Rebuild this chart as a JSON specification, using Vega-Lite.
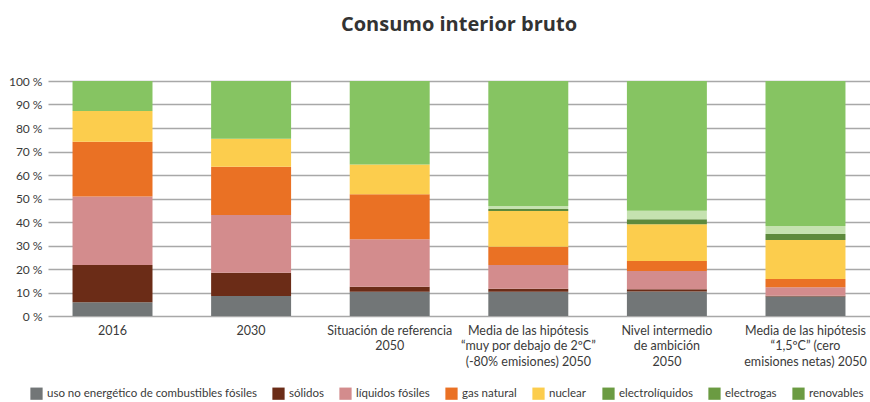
{
  "$schema": "https://vega.github.io/schema/vega-lite/v6.json",
  "autosize": {"type": "none"},
  "padding": {"left": 48, "top": 81, "right": 0, "bottom": 86},
  "width": 822,
  "height": 235,
  "background": "white",
  "title": {
    "text": "Consumo interior bruto",
    "font": "Open Sans",
    "fontSize": 20,
    "fontWeight": "bold",
    "color": "#333333",
    "anchor": "middle",
    "frame": "group",
    "offset": 40
  },
  "datasets": {
    "cuotas": [
      {"escenario": "2016", "fuente": "uso no energético de combustibles fósiles", "pct": 5.8},
      {"escenario": "2016", "fuente": "sólidos", "pct": 15.9},
      {"escenario": "2016", "fuente": "líquidos fósiles", "pct": 29.1},
      {"escenario": "2016", "fuente": "gas natural", "pct": 23.4},
      {"escenario": "2016", "fuente": "nuclear", "pct": 13.0},
      {"escenario": "2016", "fuente": "renovables", "pct": 12.8},

      {"escenario": "2030", "fuente": "uso no energético de combustibles fósiles", "pct": 8.5},
      {"escenario": "2030", "fuente": "sólidos", "pct": 9.9},
      {"escenario": "2030", "fuente": "líquidos fósiles", "pct": 24.6},
      {"escenario": "2030", "fuente": "gas natural", "pct": 20.5},
      {"escenario": "2030", "fuente": "nuclear", "pct": 11.9},
      {"escenario": "2030", "fuente": "renovables", "pct": 24.6},

      {"escenario": "Situación de referencia|2050", "fuente": "uso no energético de combustibles fósiles", "pct": 10.3},
      {"escenario": "Situación de referencia|2050", "fuente": "sólidos", "pct": 2.2},
      {"escenario": "Situación de referencia|2050", "fuente": "líquidos fósiles", "pct": 20.2},
      {"escenario": "Situación de referencia|2050", "fuente": "gas natural", "pct": 19.1},
      {"escenario": "Situación de referencia|2050", "fuente": "nuclear", "pct": 12.7},
      {"escenario": "Situación de referencia|2050", "fuente": "renovables", "pct": 35.5},

      {"escenario": "Media de las hipótesis|“muy por debajo de 2ºC”|(-80% emisiones) 2050", "fuente": "uso no energético de combustibles fósiles", "pct": 10.3},
      {"escenario": "Media de las hipótesis|“muy por debajo de 2ºC”|(-80% emisiones) 2050", "fuente": "sólidos", "pct": 1.3},
      {"escenario": "Media de las hipótesis|“muy por debajo de 2ºC”|(-80% emisiones) 2050", "fuente": "líquidos fósiles", "pct": 10.1},
      {"escenario": "Media de las hipótesis|“muy por debajo de 2ºC”|(-80% emisiones) 2050", "fuente": "gas natural", "pct": 7.8},
      {"escenario": "Media de las hipótesis|“muy por debajo de 2ºC”|(-80% emisiones) 2050", "fuente": "nuclear", "pct": 15.2},
      {"escenario": "Media de las hipótesis|“muy por debajo de 2ºC”|(-80% emisiones) 2050", "fuente": "electrolíquidos", "pct": 0.8},
      {"escenario": "Media de las hipótesis|“muy por debajo de 2ºC”|(-80% emisiones) 2050", "fuente": "electrogas", "pct": 1.3},
      {"escenario": "Media de las hipótesis|“muy por debajo de 2ºC”|(-80% emisiones) 2050", "fuente": "renovables", "pct": 53.2},

      {"escenario": "Nivel intermedio|de ambición|2050", "fuente": "uso no energético de combustibles fósiles", "pct": 10.4},
      {"escenario": "Nivel intermedio|de ambición|2050", "fuente": "sólidos", "pct": 1.0},
      {"escenario": "Nivel intermedio|de ambición|2050", "fuente": "líquidos fósiles", "pct": 7.7},
      {"escenario": "Nivel intermedio|de ambición|2050", "fuente": "gas natural", "pct": 4.3},
      {"escenario": "Nivel intermedio|de ambición|2050", "fuente": "nuclear", "pct": 15.6},
      {"escenario": "Nivel intermedio|de ambición|2050", "fuente": "electrolíquidos", "pct": 2.2},
      {"escenario": "Nivel intermedio|de ambición|2050", "fuente": "electrogas", "pct": 3.6},
      {"escenario": "Nivel intermedio|de ambición|2050", "fuente": "renovables", "pct": 55.2},

      {"escenario": "Media de las hipótesis|“1,5ºC” (cero|emisiones netas) 2050", "fuente": "uso no energético de combustibles fósiles", "pct": 8.3},
      {"escenario": "Media de las hipótesis|“1,5ºC” (cero|emisiones netas) 2050", "fuente": "sólidos", "pct": 0.3},
      {"escenario": "Media de las hipótesis|“1,5ºC” (cero|emisiones netas) 2050", "fuente": "líquidos fósiles", "pct": 3.6},
      {"escenario": "Media de las hipótesis|“1,5ºC” (cero|emisiones netas) 2050", "fuente": "gas natural", "pct": 3.5},
      {"escenario": "Media de las hipótesis|“1,5ºC” (cero|emisiones netas) 2050", "fuente": "nuclear", "pct": 16.6},
      {"escenario": "Media de las hipótesis|“1,5ºC” (cero|emisiones netas) 2050", "fuente": "electrolíquidos", "pct": 2.6},
      {"escenario": "Media de las hipótesis|“1,5ºC” (cero|emisiones netas) 2050", "fuente": "electrogas", "pct": 3.4},
      {"escenario": "Media de las hipótesis|“1,5ºC” (cero|emisiones netas) 2050", "fuente": "renovables", "pct": 61.7}
    ],
    "totales": [
      {"escenario": "2016", "total": "1639 Mtoe"},
      {"escenario": "2030", "total": "1395 Mtoe"},
      {"escenario": "Situación de referencia|2050", "total": "1255 Mtoe"},
      {"escenario": "Media de las hipótesis|“muy por debajo de 2ºC”|(-80% emisiones) 2050", "total": "1178 Mtoe"},
      {"escenario": "Nivel intermedio|de ambición|2050", "total": "1239 Mtoe"},
      {"escenario": "Media de las hipótesis|“1,5ºC” (cero|emisiones netas) 2050", "total": "1192 Mtoe"}
    ]
  },
  "encoding": {
    "x": {
      "field": "escenario",
      "type": "nominal",
      "sort": null,
      "scale": {"paddingInner": 0.423, "paddingOuter": 0.177},
      "axis": {
        "title": null,
        "domain": false,
        "ticks": false,
        "labelAngle": 0,
        "labelPadding": 8,
        "labelFontSize": 12.5,
        "labelLineHeight": 15.5,
        "labelColor": "#3a3a3a",
        "labelExpr": "split(datum.label, '|')"
      }
    },
    "y": {
      "field": "pct",
      "type": "quantitative",
      "stack": "zero",
      "scale": {"domain": [0, 100], "nice": false},
      "axis": {
        "title": null,
        "domain": false,
        "ticks": false,
        "values": [0, 10, 20, 30, 40, 50, 60, 70, 80, 90, 100],
        "labelExpr": "datum.value + ' %'",
        "labelPadding": 6,
        "labelFontSize": 12,
        "labelColor": "#3a3a3a",
        "gridColor": "#a8a8a8",
        "gridWidth": 1.6
      }
    }
  },
  "layer": [
    {
      "data": {"name": "cuotas"},
      "transform": [
        {"calculate": "indexof(['uso no energético de combustibles fósiles', 'sólidos', 'líquidos fósiles', 'gas natural', 'nuclear', 'electrolíquidos', 'electrogas', 'renovables'], datum.fuente)", "as": "orden"}
      ],
      "mark": {"type": "bar"},
      "encoding": {
        "fill": {
          "field": "fuente",
          "type": "nominal",
          "scale": {
            "domain": ["renovables", "electrogas", "electrolíquidos", "nuclear", "gas natural", "líquidos fósiles", "sólidos", "uso no energético de combustibles fósiles"],
            "range": ["#86c462", "#c5e2b0", "#5d8a3c", "#fccd4d", "#ea7124", "#d38c8d", "#6b2c17", "#727677"]
          },
          "legend": null
        },
        "order": {"field": "orden", "type": "quantitative", "sort": "ascending"}
      }
    },
    {
      "data": {"name": "cuotas"},
      "mark": {"type": "bar", "opacity": 0},
      "encoding": {
        "color": {
          "field": "fuente",
          "type": "nominal",
          "scale": {
            "domain": ["uso no energético de combustibles fósiles", "sólidos", "líquidos fósiles", "gas natural", "nuclear", "electrolíquidos", "electrogas", "renovables"],
            "range": ["#727677", "#6b2c17", "#d38c8d", "#ea7124", "#fccd4d", "#6b9b42", "#6b9b42", "#6b9b42"]
          },
          "legend": {
            "title": null,
            "orient": "none",
            "legendX": -18,
            "legendY": 306,
            "direction": "horizontal",
            "columns": 8,
            "columnPadding": 15,
            "symbolType": "square",
            "symbolSize": 150,
            "symbolStrokeWidth": 0,
            "symbolOpacity": 1,
            "labelFontSize": 11.5,
            "labelLimit": 400,
            "labelColor": "#3a3a3a",
            "labelOffset": 4
          }
        }
      }
    },
    {
      "data": {"name": "totales"},
      "mark": {"type": "text", "baseline": "middle", "dy": -15, "fontSize": 12.5, "color": "#333333"},
      "encoding": {
        "y": {"datum": 100, "type": "quantitative"},
        "text": {"field": "total", "type": "nominal"}
      }
    }
  ],
  "config": {
    "font": "Lato",
    "view": {"stroke": null}
  }
}
